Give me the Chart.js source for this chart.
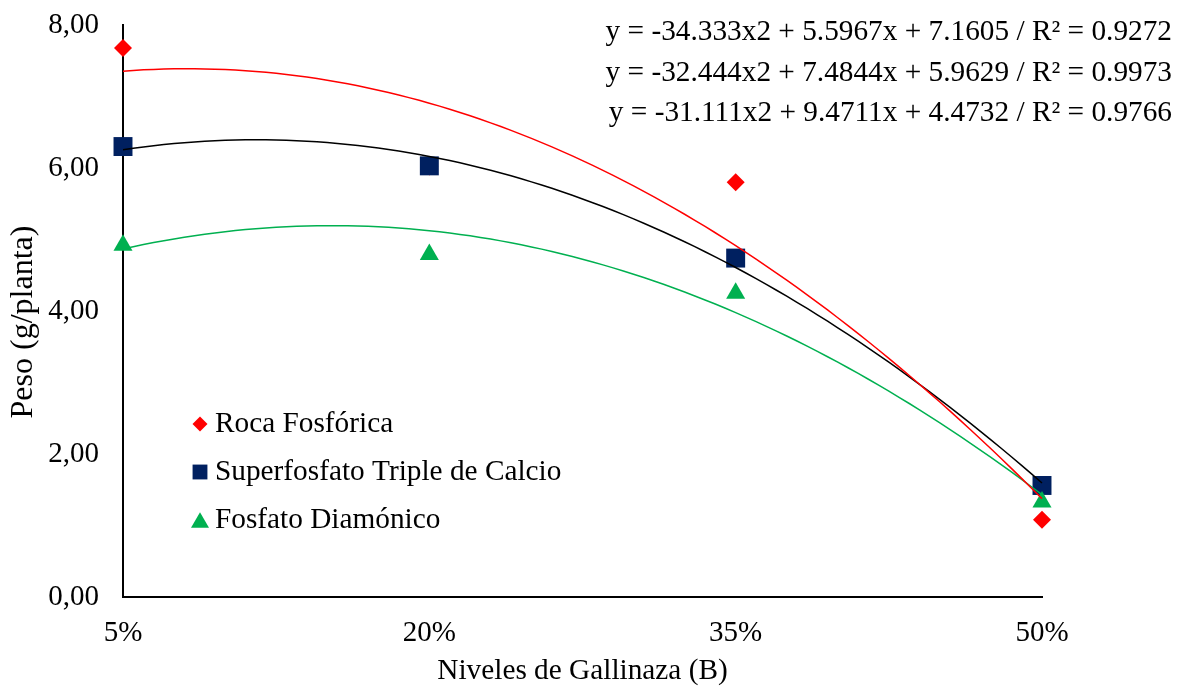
<!DOCTYPE html>
<html>
<head>
<meta charset="utf-8">
<script src="https://cdn.jsdelivr.net/npm/chart.js@4.4.0/dist/chart.umd.min.js"></script>
<style>
  html, body { margin: 0; padding: 0; background: #fff; }
  #wrap { width: 1186px; height: 689px; position: relative; }
</style>
</head>
<body>
<div id="wrap"><canvas id="chart"></canvas></div>
<script>
// niveles de gallinaza (fraction) and their labels
const levels = [0.05, 0.20, 0.35, 0.50];
const levelLabels = ['5%', '20%', '35%', '50%'];
const yTicks = [0, 2, 4, 6, 8];

// peso (g/planta) per fertilizer
const roca = [7.68, 6.02, 5.80, 1.08];
const superfosfato = [6.30, 6.03, 4.74, 1.56];
const diamonico = [4.92, 4.79, 4.25, 1.33];

const seriesNames = ['Roca Fosfórica', 'Superfosfato Triple de Calcio', 'Fosfato Diamónico'];
const seriesColors = ['#ff0000', '#002060', '#00b050'];
const trendColors = ['#ff0000', '#000000', '#00b050'];

// polynomial trendline coefficients y = a*x^2 + b*x + c, and R²
const coefA = [-34.333, -32.444, -31.111];
const coefB = [5.5967, 7.4844, 9.4711];
const coefC = [7.1605, 5.9629, 4.4732];
const coefAText = ['-34.333', '-32.444', '-31.111'];
const coefBText = ['5.5967', '7.4844', '9.4711'];
const coefCText = ['7.1605', '5.9629', '4.4732'];
const r2Text = ['0.9272', '0.9973', '0.9766'];

const FONT = '"Liberation Serif", "Times New Roman", serif';
const values = [roca, superfosfato, diamonico];
const styles = ['rectRot', 'rect', 'triangle'];
const radii = [9, 13.4, 11];

function trend(i) {
  const pts = [];
  for (let k = 0; k <= 90; k++) {
    const x = levels[0] + (levels[levels.length - 1] - levels[0]) * k / 90;
    pts.push({ x: x, y: coefA[i] * x * x + coefB[i] * x + coefC[i] });
  }
  return pts;
}

const datasets = [];
values.forEach((vals, i) => {
  datasets.push({
    label: seriesNames[i],
    data: vals.map((v, j) => ({ x: levels[j], y: v })),
    pointStyle: styles[i],
    pointRadius: radii[i],
    pointHoverRadius: radii[i],
    backgroundColor: seriesColors[i],
    borderColor: seriesColors[i],
    borderWidth: 0,
    showLine: false,
    clip: false,
    order: 3 - i
  });
});
values.forEach((vals, i) => {
  datasets.push({
    label: 'trend ' + i,
    data: trend(i),
    showLine: true,
    pointRadius: 0,
    borderColor: trendColors[i],
    borderWidth: 1.5,
    tension: 0,
    clip: false,
    order: 0
  });
});

const overlay = {
  id: 'overlay',
  afterDraw(chart) {
    const ctx = chart.ctx;
    ctx.save();
    ctx.font = '29.3px ' + FONT;
    ctx.fillStyle = '#000';
    ctx.textBaseline = 'middle';

    // equations, top right
    ctx.textAlign = 'right';
    const eqY = [32, 73, 113];
    for (let i = 0; i < 3; i++) {
      const t = 'y = ' + coefAText[i] + 'x2 + ' + coefBText[i] + 'x + ' + coefCText[i] + ' / R² = ' + r2Text[i];
      ctx.fillText(t, 1172, eqY[i]);
    }

    // legend inside plot
    ctx.textAlign = 'left';
    const legY = [424, 472, 520];
    const legR = [7.5, 10.5, 9];
    for (let i = 0; i < 3; i++) {
      const x = 200, y = legY[i], r = legR[i];
      ctx.fillStyle = seriesColors[i];
      ctx.beginPath();
      if (styles[i] === 'rectRot') {
        ctx.moveTo(x - r, y); ctx.lineTo(x, y - r); ctx.lineTo(x + r, y); ctx.lineTo(x, y + r);
      } else if (styles[i] === 'rect') {
        const s = r * Math.SQRT1_2;
        ctx.rect(x - s, y - s, 2 * s, 2 * s);
      } else {
        ctx.moveTo(x, y - r * 0.85); ctx.lineTo(x + r, y + r * 0.85); ctx.lineTo(x - r, y + r * 0.85);
      }
      ctx.closePath();
      ctx.fill();
      ctx.fillStyle = '#000';
      ctx.fillText(seriesNames[i], 215, y);
    }

    // y axis title
    ctx.translate(24, 322);
    ctx.rotate(-Math.PI / 2);
    ctx.textAlign = 'center';
    ctx.font = '32px ' + FONT;
    ctx.fillText('Peso (g/planta)', 0, 0);
    ctx.restore();
  }
};

new Chart(document.getElementById('chart'), {
  type: 'scatter',
  data: { datasets: datasets },
  options: {
    responsive: true,
    maintainAspectRatio: false,
    animation: false,
    layout: { padding: { left: 0, right: 144, top: 25, bottom: 0 } },
    plugins: { legend: { display: false }, tooltip: { enabled: false } },
    scales: {
      x: {
        type: 'linear',
        min: levels[0],
        max: levels[levels.length - 1],
        afterBuildTicks: (scale) => { scale.ticks = levels.map(v => ({ value: v })); },
        afterFit: (scale) => { scale.height = 92; },
        grid: { display: false, drawTicks: false },
        border: { display: true, color: '#000', width: 2 },
        ticks: {
          padding: 19,
          color: '#000',
          font: { family: FONT, size: 29 },
          callback: (v) => levelLabels[levels.findIndex(l => Math.abs(l - v) < 1e-6)]
        },
        title: { display: true, text: 'Niveles de Gallinaza (B)', color: '#000', font: { family: FONT, size: 29.3, lineHeight: 1.2 }, padding: { top: 0, bottom: 0 } }
      },
      y: {
        min: 0,
        max: 8,
        afterBuildTicks: (scale) => { scale.ticks = yTicks.map(v => ({ value: v })); },
        afterFit: (scale) => { scale.width = 123; scale.paddingTop = 0; scale.paddingBottom = 0; },
        grid: { display: false, drawTicks: false },
        border: { display: true, color: '#000', width: 2 },
        ticks: {
          padding: 24,
          color: '#000',
          font: { family: FONT, size: 29 },
          callback: (v) => v.toFixed(2).replace('.', ',')
        },
        title: { display: false }
      }
    }
  },
  plugins: [overlay]
});
</script>
</body>
</html>
